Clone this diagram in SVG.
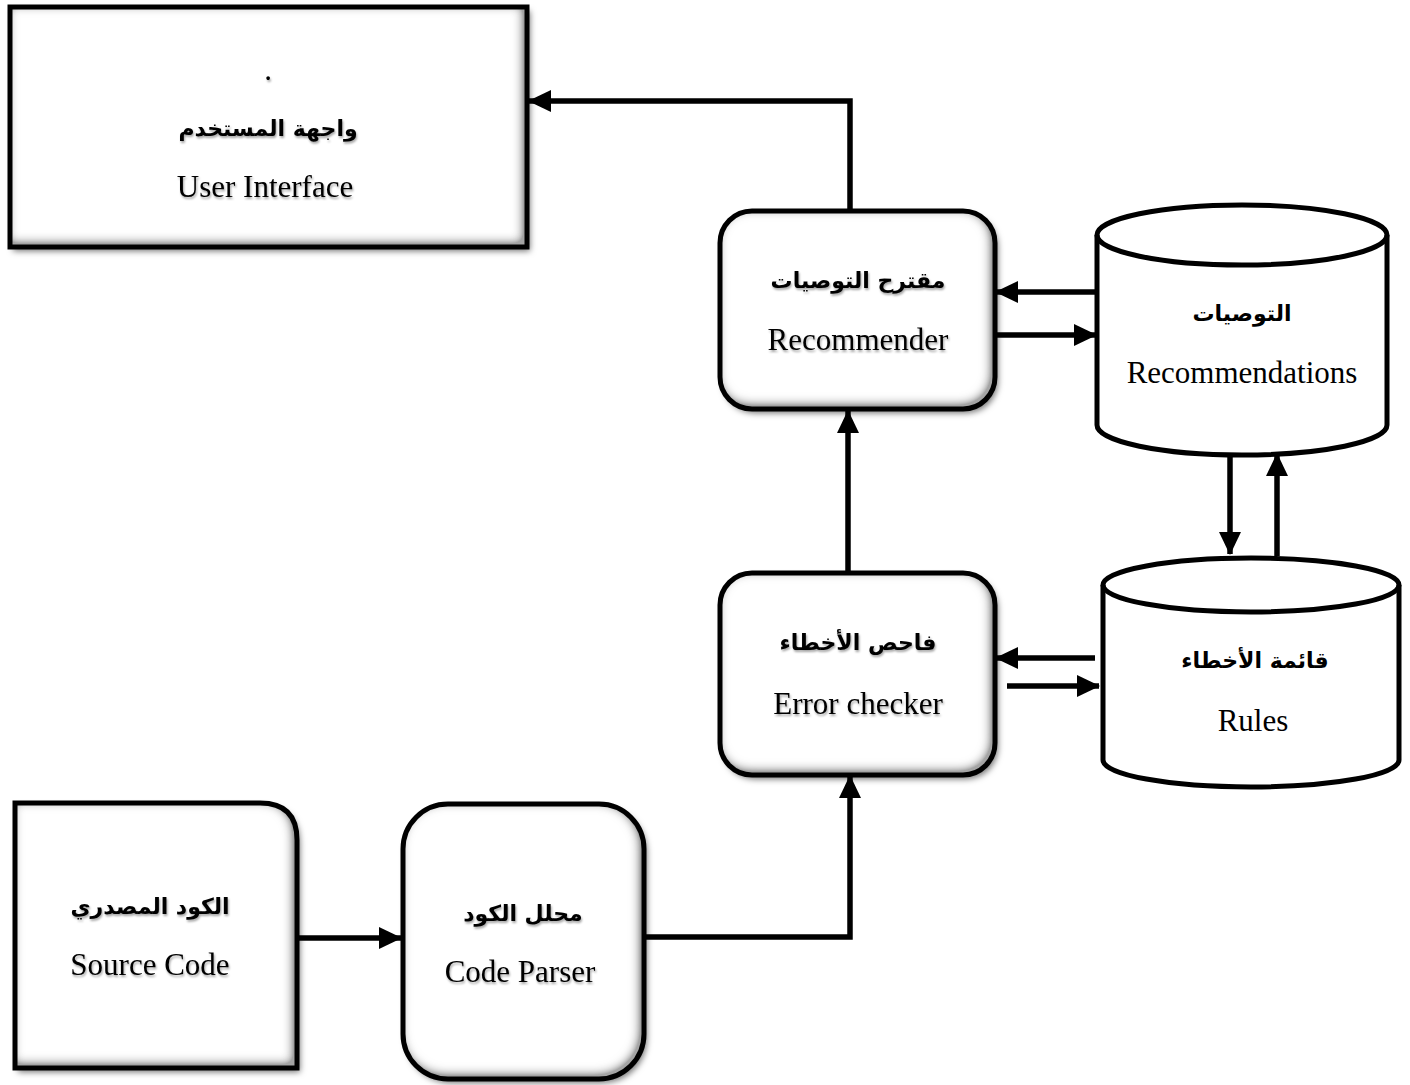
<svg xmlns="http://www.w3.org/2000/svg" width="1410" height="1085" viewBox="0 0 1410 1085">
<defs>
<style>
.en{font-family:"Liberation Serif","Times New Roman",serif;font-size:31px;fill:#000;text-anchor:middle}
.ar{font-family:"DejaVu Sans",sans-serif;font-weight:bold;font-size:22px;fill:#000;text-anchor:middle}
.bd{fill:none;stroke:#000;stroke-width:5}
.fl{fill:#fff}
.cn{fill:none;stroke:#000;stroke-width:5.5}
</style>
<filter id="bev" x="-10%" y="-10%" width="125%" height="125%">
<feOffset in="SourceAlpha" dx="3" dy="4" result="o"/>
<feGaussianBlur in="o" stdDeviation="3" result="ob"/>
<feFlood flood-color="#000" flood-opacity="0.55"/>
<feComposite in2="ob" operator="in" result="shadow"/>
<feGaussianBlur in="SourceAlpha" stdDeviation="6" result="b"/>
<feOffset in="b" dx="-3" dy="-3" result="bo"/>
<feComposite in="SourceAlpha" in2="bo" operator="out" result="edge"/>
<feComponentTransfer in="edge" result="edge2"><feFuncA type="linear" slope="2.2"/></feComponentTransfer>
<feFlood flood-color="#8c8c8c" flood-opacity="0.85"/>
<feComposite in2="edge2" operator="in" result="inner"/>
<feMerge><feMergeNode in="shadow"/><feMergeNode in="SourceGraphic"/><feMergeNode in="inner"/></feMerge>
</filter>
<filter id="tsh" x="-5%" y="-20%" width="110%" height="140%">
<feOffset in="SourceAlpha" dx="1" dy="1.5" result="o"/>
<feGaussianBlur in="o" stdDeviation="1" result="ob"/>
<feFlood flood-color="#000" flood-opacity="0.35"/>
<feComposite in2="ob" operator="in" result="s"/>
<feMerge><feMergeNode in="s"/><feMergeNode in="SourceGraphic"/></feMerge>
</filter>
<marker id="ah" markerUnits="userSpaceOnUse" markerWidth="24" markerHeight="24" viewBox="0 0 24 24" refX="22" refY="12" orient="auto">
<path d="M0,1 L23,12 L0,23 Z" fill="#000"/>
</marker>
</defs>
<rect width="1410" height="1085" fill="#fff"/>

<g id="user-interface">
<rect class="fl" x="10" y="7" width="517" height="240" filter="url(#bev)"/>
<rect class="bd" x="10" y="7" width="517" height="240"/>
<g filter="url(#tsh)">
<text class="en" x="268" y="80">.</text>
<text class="ar" x="268" y="136">واجهة المستخدم</text>
<text class="en" x="265" y="197">User Interface</text>
</g>
</g>

<g id="recommender">
<rect class="fl" x="720" y="211" width="275" height="198" rx="32" filter="url(#bev)"/>
<rect class="bd" x="720" y="211" width="275" height="198" rx="32"/>
<g filter="url(#tsh)">
<text class="ar" x="858" y="288">مقترح التوصيات</text>
<text class="en" x="858" y="350">Recommender</text>
</g>
</g>

<g id="recommendations">
<path d="M1097,235 A145,30 0 0,1 1387,235 L1387,425 A145,30 0 0,1 1097,425 Z" fill="#fff" stroke="#000" stroke-width="5"/>
<path d="M1097,235 A145,30 0 0,0 1387,235" fill="none" stroke="#000" stroke-width="5"/>
<text class="ar" x="1242" y="321">التوصيات</text>
<text class="en" x="1242" y="383">Recommendations</text>
</g>

<g id="rules">
<path d="M1103,585 A148,27 0 0,1 1399,585 L1399,760 A148,27 0 0,1 1103,760 Z" fill="#fff" stroke="#000" stroke-width="5"/>
<path d="M1103,585 A148,27 0 0,0 1399,585" fill="none" stroke="#000" stroke-width="5"/>
<text class="ar" x="1255" y="668">قائمة الأخطاء</text>
<text class="en" x="1253" y="731">Rules</text>
</g>

<g id="error-checker">
<rect class="fl" x="720" y="573" width="275" height="202" rx="32" filter="url(#bev)"/>
<rect class="bd" x="720" y="573" width="275" height="202" rx="32"/>
<g filter="url(#tsh)">
<text class="ar" x="858" y="650">فاحص الأخطاء</text>
<text class="en" x="858" y="714">Error checker</text>
</g>
</g>

<g id="source-code">
<path class="fl" d="M15,803 L260,803 Q297,803 297,840 L297,1068 L15,1068 Z" filter="url(#bev)"/>
<path class="bd" d="M15,803 L260,803 Q297,803 297,840 L297,1068 L15,1068 Z"/>
<g filter="url(#tsh)">
<text class="ar" x="150" y="914">الكود المصدري</text>
<text class="en" x="150" y="975">Source Code</text>
</g>
</g>

<g id="code-parser">
<rect class="fl" x="403" y="804" width="241" height="275" rx="45" filter="url(#bev)"/>
<rect class="bd" x="403" y="804" width="241" height="275" rx="45"/>
<g filter="url(#tsh)">
<text class="ar" x="523" y="921">محلل الكود</text>
<text class="en" x="520" y="982">Code Parser</text>
</g>
</g>

<g id="connectors">
<path class="cn" d="M850,210 L850,101 L529,101" marker-end="url(#ah)"/>
<path class="cn" d="M848,572 L848,411" marker-end="url(#ah)"/>
<path class="cn" d="M1095,292 L996,292" marker-end="url(#ah)"/>
<path class="cn" d="M993,335 L1096,335" marker-end="url(#ah)"/>
<path class="cn" d="M1230,456 L1230,554" marker-end="url(#ah)"/>
<path class="cn" d="M1277,556 L1277,454" marker-end="url(#ah)"/>
<path class="cn" d="M1095,658 L996,658" marker-end="url(#ah)"/>
<path class="cn" d="M1007,686 L1099,686" marker-end="url(#ah)"/>
<path class="cn" d="M297,938 L401,938" marker-end="url(#ah)"/>
<path class="cn" d="M645,937 L850,937 L850,776" marker-end="url(#ah)"/>
</g>
</svg>
